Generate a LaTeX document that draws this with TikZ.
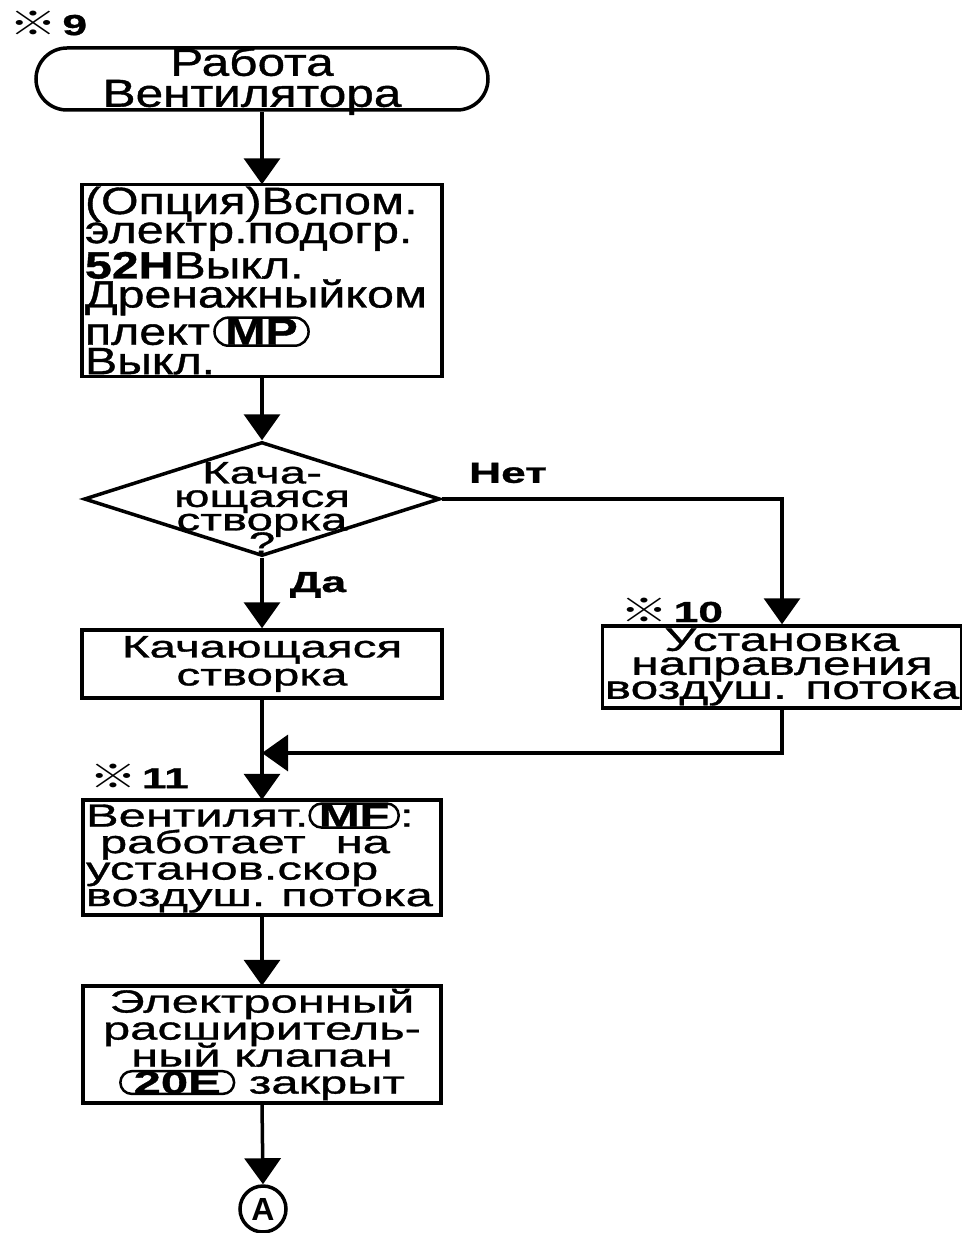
\documentclass[tikz,border=0pt]{standalone}
\usepackage{fontspec}
\setmainfont{Liberation Sans}
\newfontfamily\wideA{Liberation Sans}[FakeStretch=1.53,FakeBold=1]
\newfontfamily\wideB{Liberation Sans}[FakeStretch=1.27,FakeBold=1]
\newfontfamily\refmark{Noto Sans CJK JP}[FakeStretch=1.45]
\usetikzlibrary{arrows.meta,shapes.geometric,shapes.misc}
\lineskiplimit=-200pt
\newcommand{\ovl}[2][1pt]{\tikz[baseline=(ov.base)]\node[rounded rectangle,draw,line width=2.5pt,inner xsep=2pt,inner ysep=#1,minimum width=0pt,minimum height=0pt,text width=,font=\bfseries] (ov) {#2};}
\begin{document}
\begin{tikzpicture}[x=1pt,y=-1pt,line width=3.5pt,
  arr/.style={-{Triangle[width=36pt,length=26pt]}},
  box/.style={draw,inner sep=2pt,align=center},
  lbl/.style={font=\wideA\bfseries\fontsize{29}{29}\selectfont,inner sep=0pt}]
\useasboundingbox (0,0) rectangle (961,1233);

% reference marks and labels
\node[lbl,anchor=west] (m9) at (8,23) {{\refmark\fontsize{33}{33}\selectfont ※}\,9};
\node[lbl] (m10) at (672,610) {{\refmark\fontsize{33}{33}\selectfont ※}\,10};
\node[lbl] (m11) at (139,776) {{\refmark\fontsize{33}{33}\selectfont ※}\,11};

% terminal
\node[rounded rectangle,draw,minimum width=452pt,minimum height=62pt,inner sep=0pt] (term) at (262,79) {};
\node[align=center,inner sep=0pt,font=\wideB\fontsize{39}{31}\selectfont] (termtext) at (252,81) {Работа\\Вентилятора};

% box 1
\node[box,minimum width=360pt,minimum height=187pt,align=left,text width=354pt] (box1) at (262,280.5)
  {\wideB\fontsize{38}{29}\selectfont (Опция)Вспом.\\электр.подогр.\\{\bfseries 52H}Выкл.\\Дренажныйком\\плект \ovl{MP}\\Выкл.};

% decision
\node[diamond,draw,minimum width=356pt,minimum height=114pt,inner sep=0pt] (dia) at (262,499) {};
\node[align=center,inner sep=0pt,font=\wideA\fontsize{31}{23.5}\selectfont] (diatext) at (262,508) {Кача-\\ющаяся\\створка\\?};
\node[lbl] (net) at (508,473) {Нет};
\node[lbl,anchor=base] (da) at (318,592) {Да};

% box 2
\node[box,minimum width=360pt,minimum height=68pt,font=\wideA\fontsize{31}{28}\selectfont] (box2) at (262,664) {Качающаяся\\створка};

% box 3
\node[box,minimum width=355pt,minimum height=82pt,font=\wideA\fontsize{32.5}{24}\selectfont] (box3) at (782,667) {Установка\\направления\\воздуш. потока};

% box 4
\node[box,minimum width=358pt,minimum height=115pt,align=left,text width=352pt,font=\wideA\fontsize{32}{26.5}\selectfont] (box4) at (262,857.5)
  {Вентилят.\ovl{MF}:\\\hspace*{14pt}работает\hspace{30pt}на\\установ.скор\\воздуш. потока};

% box 5
\node[box,minimum width=358pt,minimum height=117pt,font=\wideA\fontsize{32}{27}\selectfont] (box5) at (262,1044.5)
  {Электронный\\расширитель-\\ный клапан\\\ovl[0pt]{20E} закрыт};

% connector A
\node[circle,draw,minimum size=46pt,inner sep=0pt,font=\bfseries\fontsize{32}{32}\selectfont] (conA) at (263,1209) {A};

\coordinate (merge) at (262,753);

\draw[arr] (term.south) -- (box1.north);
\draw[arr] (box1.south) -- (dia.north);
\draw[arr] (dia.south) -- (box2.north);
\draw[arr] (dia.east) -| (box3.north);
\draw[arr] (box3.south) |- (merge);
\draw[arr] (box2.south) -- (box4.north);
\draw[arr] (box4.south) -- (box5.north);
\draw[arr] (box5.south) -- (conA.north);
\end{tikzpicture}
\end{document}
